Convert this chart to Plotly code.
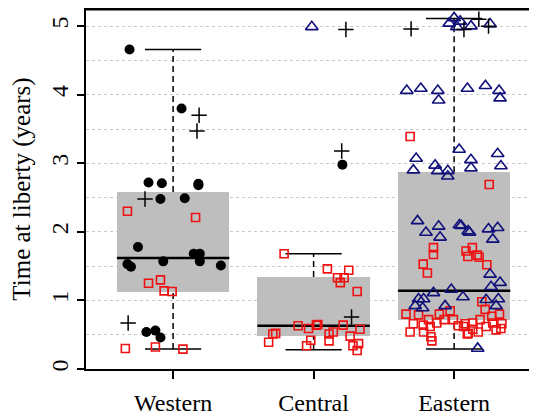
import plotly.graph_objects as go

# ---- data ----
regions = ["Western", "Central", "Eastern"]
region_pos = [1, 2, 3]

box_q1 = [1.13, 0.48, 0.71]
box_median = [1.62, 0.63, 1.14]
box_q3 = [2.58, 1.34, 2.87]
whisker_low = [0.29, 0.28, 0.29]
whisker_high = [4.66, 1.68, 5.11]

# Western
w_circle_vals = [4.66, 3.80, 2.72, 2.71, 2.70, 2.68, 2.48, 2.49, 1.78, 1.53, 1.49, 1.57, 1.68, 1.68, 1.57, 1.51, 0.54, 0.56, 0.46]
w_circle_jit = [-0.31, 0.06, -0.175, -0.08, 0.18, 0.18, -0.09, 0.083, -0.25, -0.325, -0.30, -0.07, 0.147, 0.19, 0.19, 0.34, -0.19, -0.126, -0.09]
w_square_vals = [2.30, 2.21, 1.25, 1.30, 1.14, 1.13, 0.30, 0.32, 0.29]
w_square_jit = [-0.325, 0.16, -0.175, -0.09, -0.064, -0.007, -0.34, -0.126, 0.07]
w_plus_vals = [3.70, 3.47, 2.48, 0.67]
w_plus_jit = [0.185, 0.17, -0.20, -0.32]

# Central
c_triangle_vals = [4.99]
c_triangle_jit = [-0.013]
c_plus_vals = [4.95, 3.18, 0.76]
c_plus_jit = [0.23, 0.20, 0.27]
c_circle_vals = [2.98]
c_circle_jit = [0.205]
c_square_vals = [1.68, 1.46, 1.44, 1.33, 1.33, 1.26, 1.13, 0.63, 0.59, 0.64, 0.65, 0.64, 0.58, 0.52, 0.51,
                 0.39, 0.54, 0.51, 0.41, 0.48, 0.42, 0.34, 0.34, 0.37, 0.27]
c_square_jit = [-0.21, 0.098, 0.25, 0.17, 0.217, 0.19, 0.31, -0.11, -0.036, 0.02, 0.03, 0.21, 0.33, -0.27, -0.29,
                -0.32, 0.14, 0.11, 0.11, 0.26, -0.02, -0.05, 0.28, 0.32, 0.31]

# Eastern
e_plus_vals = [4.96, 5.10, 4.95, 5.00]
e_plus_jit = [-0.306, 0.176, 0.07, 0.245]
e_triangle_vals = [5.04, 5.12, 5.07, 4.99, 5.00, 5.03,
                   4.06, 4.09, 4.06, 3.92, 4.09, 4.13, 4.06, 3.95,
                   3.20, 3.14, 3.07, 2.90, 2.97, 2.89, 2.89, 2.81, 3.05, 2.93, 2.96,
                   2.16, 1.99, 2.08, 1.92, 2.10, 2.09, 2.01, 1.99, 2.04, 2.06, 1.89,
                   1.38, 1.26, 1.20, 1.11, 1.16, 1.05, 1.02, 1.02, 0.92, 0.89, 0.92, 1.01, 1.02, 0.92, 0.30]
e_triangle_jit = [-0.035, 0.0, 0.043, 0.02, 0.12, 0.256,
                  -0.337, -0.237, -0.116, -0.11, 0.095, 0.223, 0.32, 0.327,
                  0.036, 0.31, -0.27, -0.29, -0.135, -0.116, -0.045, -0.045, 0.12, 0.12, 0.333,
                  -0.26, -0.20, -0.11, -0.10, 0.038, 0.05, 0.10, 0.11, 0.245, 0.31, 0.275,
                  0.256, 0.327, 0.263, -0.147, -0.02, 0.063, -0.253, -0.217, -0.277, -0.224, -0.064, 0.228, 0.315, 0.299, 0.168]
e_square_vals = [3.39, 2.69, 1.77, 1.67, 1.53, 1.40, 1.72, 1.77, 1.64, 1.66, 1.63, 1.52,
                 0.80, 0.54, 0.66, 0.79, 0.64, 0.54, 0.72, 0.62, 0.47, 0.41, 0.80, 0.67, 0.72, 0.85,
                 0.72, 0.63, 0.66, 0.51, 0.67, 0.58, 0.72, 0.98, 0.87, 0.62, 0.77, 0.67, 0.57, 0.80,
                 0.66, 0.59, 0.62, 0.52, 0.54]
e_square_jit = [-0.313, 0.25, -0.147, -0.147, -0.22, -0.19, 0.085, 0.13, 0.098, 0.165, 0.178, 0.233,
                -0.342, -0.313, -0.29, -0.253, -0.22, -0.217, -0.182, -0.17, -0.165, -0.158, -0.105, -0.123, -0.071, -0.028,
                -0.005, 0.03, 0.078, 0.094, 0.133, 0.133, 0.185, 0.197, 0.221, 0.228, 0.268, 0.275, 0.299, 0.323,
                0.34, 0.333, 0.067, 0.10, 0.172]

y_ticks = [0, 1, 2, 3, 4, 5]

# ---- styles ----
FONT = "Liberation Serif, Times New Roman, serif"
GRAY_BOX = "#bebebe"
RED = "#ee1111"
NAVY = "#10107a"

fig = go.Figure()

# boxes
fig.add_trace(go.Bar(
    x=region_pos, y=[q3 - q1 for q1, q3 in zip(box_q1, box_q3)], base=box_q1,
    width=0.8, marker=dict(color=GRAY_BOX, line=dict(width=0)), hoverinfo="skip", showlegend=False))

# whiskers (dashed)
wx, wy = [], []
for p, lo, q1, q3, hi in zip(region_pos, whisker_low, box_q1, box_q3, whisker_high):
    wx += [p, p, None, p, p, None]
    wy += [q3, hi, None, lo, q1, None]
fig.add_trace(go.Scatter(x=wx, y=wy, mode="lines", line=dict(color="black", width=1.5, dash="6px,4px"),
                         hoverinfo="skip", showlegend=False))

# caps
cx, cy = [], []
for p, lo, hi in zip(region_pos, whisker_low, whisker_high):
    cx += [p - 0.2, p + 0.2, None, p - 0.2, p + 0.2, None]
    cy += [hi, hi, None, lo, lo, None]
fig.add_trace(go.Scatter(x=cx, y=cy, mode="lines", line=dict(color="black", width=1.5),
                         hoverinfo="skip", showlegend=False))

# medians
mx, my = [], []
for p, m in zip(region_pos, box_median):
    mx += [p - 0.4, p + 0.4, None]
    my += [m, m, None]
fig.add_trace(go.Scatter(x=mx, y=my, mode="lines", line=dict(color="black", width=2.5),
                         hoverinfo="skip", showlegend=False))


def add_points(pos, vals, jit, symbol, color, size, lw):
    fig.add_trace(go.Scatter(
        x=[pos + j for j in jit], y=vals, mode="markers",
        marker=dict(symbol=symbol, color=color, size=size, line=dict(color=color, width=lw)),
        hoverinfo="skip", showlegend=False))


# squares
add_points(1, w_square_vals, w_square_jit, "square-open", RED, 8, 1.6)
add_points(2, c_square_vals, c_square_jit, "square-open", RED, 8, 1.6)
add_points(3, e_square_vals, e_square_jit, "square-open", RED, 8, 1.6)
# triangles
add_points(2, c_triangle_vals, c_triangle_jit, "triangle-up-open", NAVY, 11, 1.6)
add_points(3, e_triangle_vals, e_triangle_jit, "triangle-up-open", NAVY, 11, 1.6)
# circles
add_points(1, w_circle_vals, w_circle_jit, "circle", "black", 10, 0)
add_points(2, c_circle_vals, c_circle_jit, "circle", "black", 10, 0)
# plus
add_points(1, w_plus_vals, w_plus_jit, "cross-thin-open", "black", 11, 1.5)
add_points(2, c_plus_vals, c_plus_jit, "cross-thin-open", "black", 11, 1.5)
add_points(3, e_plus_vals, e_plus_jit, "cross-thin-open", "black", 11, 1.5)

# page body has an 8px margin: size the figure so the plot lands where the reference has it
fig.update_layout(
    width=529, height=408,
    margin=dict(l=78, r=0, t=1, b=47, autoexpand=False),
    paper_bgcolor="white", plot_bgcolor="white",
    font=dict(family=FONT, color="black", size=24),
    bargap=0, showlegend=False,
)
fig.update_xaxes(
    range=[0.38, 3.59], tickmode="array", tickvals=region_pos, ticktext=regions, automargin=False,
    showgrid=False, zeroline=False, showline=True, linecolor="black", linewidth=2, mirror=True,
    ticks="outside", ticklen=8, tickwidth=1.5, tickcolor="black", ticklabelstandoff=3,
    tickfont=dict(family=FONT, size=24, color="black"),
)
fig.update_yaxes(
    range=[0, 5.25], tickmode="array", tickvals=y_ticks, tickangle=-90, automargin=False,
    showgrid=True, gridcolor="#c8c8c8", griddash="dot", gridwidth=1,
    minor=dict(dtick=0.5, showgrid=True, gridcolor="#c8c8c8", griddash="dot", gridwidth=1),
    zeroline=False, showline=True, linecolor="black", linewidth=1.5,
    ticks="outside", ticklen=7, tickwidth=1.5, tickcolor="black",
    tickfont=dict(family=FONT, size=24, color="black"),
    title=dict(text="Time at liberty (years)", font=dict(family=FONT, size=25, color="black"), standoff=10),
)
fig.add_shape(type="line", xref="paper", yref="paper", x0=0, x1=1, y0=1, y1=1,
              line=dict(color="black", width=3))

fig.write_html("out.html")
